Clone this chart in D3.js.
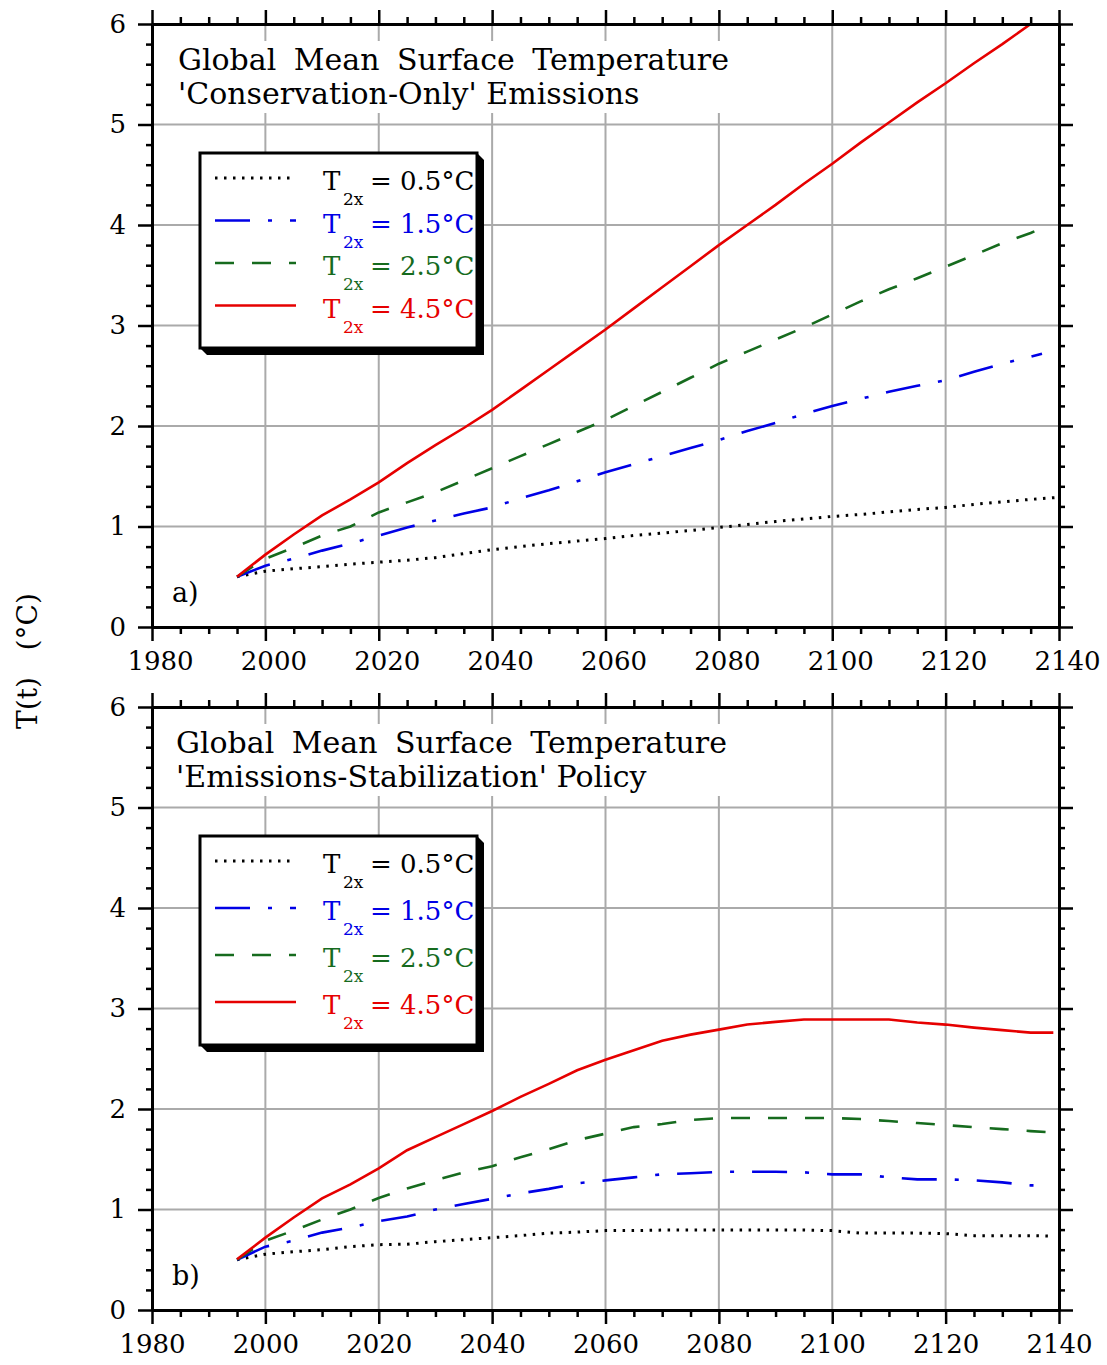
<!DOCTYPE html>
<html>
<head>
<meta charset="utf-8">
<script src="https://cdn.jsdelivr.net/npm/d3@7"></script>
<style>
  body { margin: 0; background: #fff; }
  text { font-family: "DejaVu Serif", serif; }
</style>
</head>
<body>
<svg id="chart" width="1107" height="1365"></svg>
<script>
var years = [1995,2000,2005,2010,2015,2020,2025,2030,2035,2040,2045,2050,2055,2060,2065,
             2070,2075,2080,2085,2090,2095,2100,2105,2110,2115,2120,2125,2130,2135];
var xTicks = [1980,2000,2020,2040,2060,2080,2100,2120,2140];
var yTicks = [0,1,2,3,4,5,6];
var sensitivities = ["0.5","1.5","2.5","4.5"];

// a) 'Conservation-Only' emissions
var blackA = [.5,.555,.58,.60,.625,.645,.665,.69,.73,.77,.80,.83,.855,.88,.91,.935,.96,.99,1.02,1.05,1.075,1.10,1.12,1.145,1.17,1.19,1.22,1.245,1.27];
var blueA  = [.5,.61,.68,.76,.83,.91,.99,1.06,1.13,1.19,1.28,1.36,1.45,1.54,1.62,1.70,1.78,1.86,1.95,2.03,2.12,2.20,2.27,2.34,2.40,2.455,2.54,2.62,2.69];
var greenA = [.5,.68,.79,.91,1.0,1.14,1.24,1.34,1.46,1.58,1.70,1.82,1.94,2.06,2.2,2.34,2.48,2.62,2.74,2.86,2.98,3.11,3.24,3.36,3.47,3.585,3.7,3.82,3.92];
var redA   = [.5,.72,.92,1.11,1.27,1.44,1.63,1.81,1.98,2.16,2.36,2.56,2.76,2.96,3.17,3.38,3.59,3.80,4.0,4.2,4.41,4.61,4.82,5.02,5.22,5.41,5.61,5.8,6.0];
var tailA  = [[2140,1.29],[2137,2.72],[2137,3.97],null];

// b) 'Emissions-Stabilization' policy
var blackB = [.5,.555,.58,.60,.63,.65,.655,.68,.70,.72,.74,.765,.775,.79,.79,.795,.795,.795,.795,.795,.795,.79,.765,.765,.765,.76,.74,.74,.74];
var blueB  = [.5,.63,.69,.77,.82,.885,.93,1.0,1.055,1.106,1.16,1.205,1.26,1.29,1.32,1.35,1.36,1.375,1.375,1.375,1.37,1.35,1.35,1.32,1.30,1.30,1.29,1.27,1.24];
var greenB = [.5,.69,.79,.90,1.0,1.115,1.21,1.29,1.37,1.43,1.52,1.6,1.69,1.755,1.82,1.85,1.89,1.91,1.91,1.91,1.91,1.91,1.90,1.88,1.86,1.84,1.82,1.80,1.78];
var redB   = [.505,.72,.92,1.11,1.25,1.41,1.59,1.72,1.85,1.98,2.12,2.25,2.385,2.49,2.585,2.68,2.74,2.79,2.84,2.867,2.89,2.89,2.89,2.89,2.86,2.84,2.81,2.785,2.76];
var tailB  = [[2139,.735],[2138,1.24],[2138,1.77],[2139,2.76]];

var colors = ["#000000", "#0000e6", "#166b1e", "#e60000"];
var dashes = ["2.5,6.5", "35,18,4,18", "19,18", null];
var widths = [3, 2.6, 2.6, 2.6];

var svg = d3.select("#chart");

function drawPanel(p) {
  var left = 152, right = 1059;
  var x = d3.scaleLinear().domain([1980, 2140]).range([left, right]),
      y = d3.scaleLinear().domain([0, 6]).range([p.bottom, p.top]);

  var g = svg.append("g");

  // grid
  g.append("g").selectAll("line")
    .data(xTicks.slice(1, -1)).enter().append("line")
      .attr("x1", d => x(d)).attr("x2", d => x(d))
      .attr("y1", p.top).attr("y2", p.bottom)
      .attr("stroke", "#aaaaaa").attr("stroke-width", 2);
  g.append("g").selectAll("line")
    .data(yTicks.slice(1, -1)).enter().append("line")
      .attr("x1", left).attr("x2", right)
      .attr("y1", d => y(d)).attr("y2", d => y(d))
      .attr("stroke", "#aaaaaa").attr("stroke-width", 2);

  // curves
  var line = d3.line()
      .x(d => x(d[0]))
      .y(d => y(d[1]));

  p.series.forEach(function(vals, i) {
    var pts = years.map((yr, j) => [yr, vals[j]]);
    if (p.tails[i]) pts.push(p.tails[i]);
    g.append("path")
      .datum(pts)
      .attr("d", line)
      .attr("fill", "none")
      .attr("stroke", colors[i])
      .attr("stroke-width", widths[i])
      .attr("stroke-dasharray", dashes[i]);
  });

  // title block with white backing
  g.append("rect")
    .attr("x", 166).attr("y", p.top + 17)
    .attr("width", 570).attr("height", 72)
    .attr("fill", "#fff");
  var title = g.append("text")
    .attr("font-size", 30)
    .attr("fill", "#000");
  title.append("tspan")
    .attr("x", p.titleX).attr("y", p.top + 46)
    .style("word-spacing", "8px")
    .text(p.title[0]);
  title.append("tspan")
    .attr("x", p.titleX).attr("y", p.top + 80)
    .text(p.title[1]);

  // legend box with shadow
  var lb = p.legend;
  g.append("polygon")
    .attr("points", [[lb.x0, lb.y1], [lb.x0 + 7, lb.y1 + 7], [lb.x1 + 7, lb.y1 + 7],
                     [lb.x1 + 7, lb.y0 + 7], [lb.x1, lb.y0]].join(" "))
    .attr("fill", "#000");
  g.append("rect")
    .attr("x", lb.x0).attr("y", lb.y0)
    .attr("width", lb.x1 - lb.x0).attr("height", lb.y1 - lb.y0)
    .attr("fill", "#fff").attr("stroke", "#000").attr("stroke-width", 3);

  sensitivities.forEach(function(s, i) {
    var ly = lb.row0 + i * lb.step;
    g.append("line")
      .attr("x1", 215).attr("x2", 296)
      .attr("y1", ly).attr("y2", ly)
      .attr("stroke", colors[i]).attr("stroke-width", widths[i])
      .attr("stroke-dasharray", dashes[i]);
    var t = g.append("text")
      .attr("font-size", 26)
      .attr("fill", colors[i]);
    t.append("tspan").attr("x", 323).attr("y", ly + 12).text("T");
    t.append("tspan").attr("x", 343).attr("y", ly + 27)
      .attr("font-size", 17).text("2x");
    t.append("tspan").attr("x", 370).attr("y", ly + 12).text("= " + s + "°C");
  });

  g.append("text")
    .attr("x", 172).attr("y", p.bottom - 25)
    .attr("font-size", 27)
    .text(p.letter);

  // axes
  var minorX = d3.range(1980, 2141, 5).filter(d => d % 20 !== 0),
      minorY = d3.range(0, 6.01, 0.2).map(d => +d.toFixed(1)).filter(d => d % 1 !== 0);

  function styleAxis(sel) {
    sel.select(".domain").attr("stroke", "#000").attr("stroke-width", 3);
    sel.selectAll(".tick line").attr("stroke", "#000").attr("stroke-width", 2.5);
    sel.selectAll(".tick text")
      .attr("font-family", "DejaVu Serif, serif")
      .attr("font-size", 26)
      .attr("fill", "#000");
  }

  g.append("g")
    .attr("transform", "translate(0," + p.bottom + ")")
    .call(d3.axisBottom(x).tickValues(minorX).tickSize(7).tickSizeOuter(0).tickFormat(""))
    .call(styleAxis);
  g.append("g")
    .attr("transform", "translate(0," + p.bottom + ")")
    .call(d3.axisBottom(x).tickValues(xTicks).tickSize(14).tickSizeOuter(0)
      .tickPadding(11).tickFormat(d3.format("d")))
    .call(styleAxis)
    .selectAll(".tick text").attr("dx", p.labelDx);

  g.append("g")
    .attr("transform", "translate(0," + p.top + ")")
    .call(d3.axisTop(x).tickValues(minorX).tickSize(7).tickSizeOuter(0).tickFormat(""))
    .call(styleAxis);
  g.append("g")
    .attr("transform", "translate(0," + p.top + ")")
    .call(d3.axisTop(x).tickValues(xTicks).tickSize(14).tickSizeOuter(0).tickFormat(""))
    .call(styleAxis);

  g.append("g")
    .attr("transform", "translate(" + left + ",0)")
    .call(d3.axisLeft(y).tickValues(minorY).tickSize(6).tickSizeOuter(0).tickFormat(""))
    .call(styleAxis);
  g.append("g")
    .attr("transform", "translate(" + left + ",0)")
    .call(d3.axisLeft(y).tickValues(yTicks).tickSize(14).tickSizeOuter(0)
      .tickPadding(12).tickFormat(d3.format("d")))
    .call(styleAxis);

  g.append("g")
    .attr("transform", "translate(" + right + ",0)")
    .call(d3.axisRight(y).tickValues(minorY).tickSize(6).tickSizeOuter(0).tickFormat(""))
    .call(styleAxis);
  g.append("g")
    .attr("transform", "translate(" + right + ",0)")
    .call(d3.axisRight(y).tickValues(yTicks).tickSize(14).tickSizeOuter(0).tickFormat(""))
    .call(styleAxis);
}

drawPanel({
  top: 24, bottom: 627, labelDx: 8, titleX: 178, letter: "a)",
  title: ["Global Mean Surface Temperature", "'Conservation-Only' Emissions"],
  series: [blackA, blueA, greenA, redA], tails: tailA,
  legend: {x0: 200, y0: 153, x1: 477, y1: 348, row0: 178, step: 42.5}
});

drawPanel({
  top: 707, bottom: 1310, labelDx: 0, titleX: 176, letter: "b)",
  title: ["Global Mean Surface Temperature", "'Emissions-Stabilization' Policy"],
  series: [blackB, blueB, greenB, redB], tails: tailB,
  legend: {x0: 200, y0: 836, x1: 477, y1: 1045, row0: 861, step: 47}
});

svg.append("text")
  .attr("transform", "translate(37,661) rotate(-90)")
  .attr("text-anchor", "middle")
  .attr("font-size", 28)
  .style("white-space", "pre")
  .text("T(t)   (°C)");
</script>
</body>
</html>
